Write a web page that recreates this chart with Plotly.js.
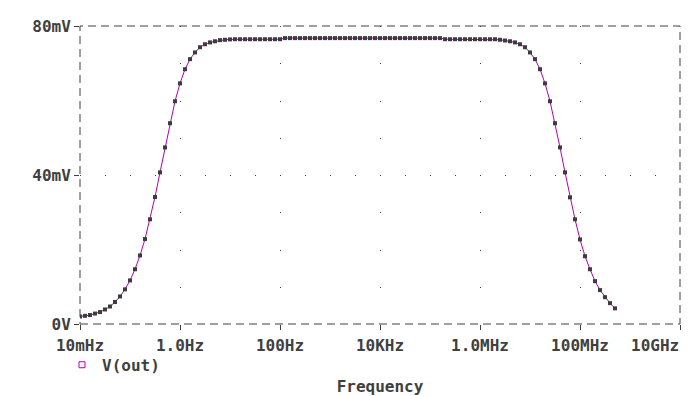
<!DOCTYPE html>
<html>
<head>
<meta charset="utf-8">
<script src="https://cdn.plot.ly/plotly-3.0.1.min.js"></script>
<style>
  html, body { margin: 0; padding: 0; background: #ffffff; }
  #chart { width: 691px; height: 396px; }
</style>
</head>
<body>
<div id="chart"></div>
<script>
// Sweep frequencies (Hz), 10 points per decade
const frequencies = [
  1e-2, 1.259e-2, 1.585e-2, 1.995e-2, 2.512e-2, 3.162e-2, 3.981e-2, 5.012e-2, 6.310e-2, 7.943e-2,
  1e-1, 1.259e-1, 1.585e-1, 1.995e-1, 2.512e-1, 3.162e-1, 3.981e-1, 5.012e-1, 6.310e-1, 7.943e-1,
  1e0, 1.259e0, 1.585e0, 1.995e0, 2.512e0, 3.162e0, 3.981e0, 5.012e0, 6.310e0, 7.943e0,
  1e1, 1.259e1, 1.585e1, 1.995e1, 2.512e1, 3.162e1, 3.981e1, 5.012e1, 6.310e1, 7.943e1,
  1e2, 1.259e2, 1.585e2, 1.995e2, 2.512e2, 3.162e2, 3.981e2, 5.012e2, 6.310e2, 7.943e2,
  1e3, 1.259e3, 1.585e3, 1.995e3, 2.512e3, 3.162e3, 3.981e3, 5.012e3, 6.310e3, 7.943e3,
  1e4, 1.259e4, 1.585e4, 1.995e4, 2.512e4, 3.162e4, 3.981e4, 5.012e4, 6.310e4, 7.943e4,
  1e5, 1.259e5, 1.585e5, 1.995e5, 2.512e5, 3.162e5, 3.981e5, 5.012e5, 6.310e5, 7.943e5,
  1e6, 1.259e6, 1.585e6, 1.995e6, 2.512e6, 3.162e6, 3.981e6, 5.012e6, 6.310e6, 7.943e6,
  1e7, 1.259e7, 1.585e7, 1.995e7, 2.512e7, 3.162e7, 3.981e7, 5.012e7, 6.310e7, 7.943e7,
  1e8, 1.259e8, 1.585e8, 1.995e8, 2.512e8, 3.162e8, 3.981e8, 5.012e8
];

// V(out) in mV
const vout = [
  2.0, 2.2, 2.4, 2.8, 3.2, 3.9, 4.7, 5.9, 7.4, 9.3,
  11.7, 14.7, 18.4, 22.8, 28.1, 34.1, 40.7, 47.4, 53.9, 59.8,
  64.6, 68.4, 71.1, 72.9, 74.3, 75.1, 75.6, 75.9, 76.2, 76.3,
  76.4, 76.45, 76.45, 76.45, 76.45, 76.45, 76.45, 76.45, 76.45, 76.45,
  76.45, 76.75, 76.75, 76.75, 76.75, 76.75, 76.75, 76.75, 76.75, 76.75,
  76.75, 76.75, 76.75, 76.75, 76.75, 76.75, 76.75, 76.75, 76.75, 76.75,
  76.75, 76.75, 76.75, 76.75, 76.75, 76.75, 76.75, 76.75, 76.75, 76.75,
  76.75, 76.75, 76.75, 76.45, 76.45, 76.45, 76.45, 76.45, 76.45, 76.45,
  76.45, 76.45, 76.45, 76.45, 76.3, 76.1, 75.9, 75.6, 75.1, 74.3,
  72.9, 71.1, 68.4, 64.6, 59.8, 53.9, 47.4, 40.7, 34.0, 28.1,
  22.7, 18.2, 14.7, 11.5, 9.1, 7.2, 5.6, 4.2
];

const xTickVals = [1e-2, 1e0, 1e2, 1e4, 1e6, 1e8, 1e10];
const xTickText = ["10mHz", "1.0Hz", "100Hz", "10KHz", "1.0MHz", "100MHz", ""];
const lastXTickText = "10GHz";   // drawn right-aligned at the axis end, as in the reference
const yTickVals = [0, 40, 80];
const yTickText = ["0V", "40mV", "80mV"];
const seriesName = "V(out)";
const xTitle = "Frequency";

const ink = "#404040";
const magenta = "#b400b4";
const font = { family: "DejaVu Sans Mono", size: 16, color: ink, weight: "bold" };

const traces = [
  {
    x: frequencies, y: vout, type: "scatter", mode: "lines+markers",
    line: { color: magenta, width: 1 },
    marker: { symbol: "square", size: 4, color: "#3c3c3c" },
    showlegend: false, hoverinfo: "skip"
  },
  {
    x: [null], y: [null], type: "scatter", mode: "markers",
    name: seriesName,
    marker: { symbol: "square-open", size: 6, color: magenta, line: { width: 1, color: magenta } }
  }
];

const layout = {
  width: 691, height: 396,
  margin: { l: 80, r: 11, t: 26, b: 72 },
  paper_bgcolor: "#ffffff", plot_bgcolor: "#ffffff",
  font: font,
  showlegend: true,
  legend: {
    x: -0.03, y: -0.08, xanchor: "left", yanchor: "top",
    orientation: "h", font: font, bgcolor: "rgba(0,0,0,0)"
  },
  xaxis: {
    type: "log", range: [-2, 10],
    tickmode: "array", tickvals: xTickVals, ticktext: xTickText,
    ticks: "outside", ticklen: 5, tickwidth: 1, tickcolor: ink,
    ticklabelstandoff: 2,
    showgrid: true, gridcolor: ink, gridwidth: 1, griddash: "1px,36.25px",
    showline: false, zeroline: false,
    tickfont: font,
    title: { text: xTitle, font: font, standoff: 26 }
  },
  yaxis: {
    range: [0, 80],
    tickmode: "array", tickvals: yTickVals, ticktext: yTickText,
    ticks: "outside", ticklen: 5, tickwidth: 1, tickcolor: ink,
    showgrid: true, gridcolor: ink, gridwidth: 1, griddash: "1px,24px",
    showline: false, zeroline: false,
    tickfont: font
  },
  annotations: [
    { text: lastXTickText, xref: "paper", yref: "paper", x: 1, y: -0.0705,
      xanchor: "right", yanchor: "middle", xshift: 1, showarrow: false, font: font }
  ],
  shapes: [
    { type: "rect", xref: "paper", yref: "paper", x0: 0, x1: 1, y0: 0, y1: 1,
      line: { color: ink, width: 1, dash: "8px,5px" }, layer: "above" }
  ]
};

Plotly.newPlot("chart", traces, layout, { displayModeBar: false, staticPlot: true });
</script>
</body>
</html>
